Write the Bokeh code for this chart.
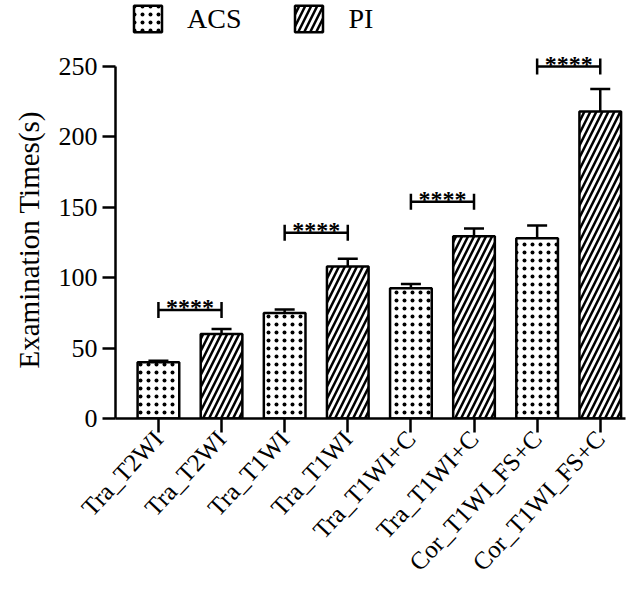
import numpy as np
from bokeh.plotting import figure
from bokeh.models import ColumnDataSource, Whisker, TeeHead, FixedTicker, Range1d, Title
from bokeh.embed import file_html
from bokeh.resources import INLINE
from bokeh.core.properties import value

# ---------------- data ----------------
sequences = ["Tra_T2WI", "Tra_T1WI", "Tra_T1WI+C", "Cor_T1WI_FS+C"]
series = ["ACS", "PI"]
acs_mean = [40, 75, 92.5, 128]
acs_upper = [41, 77.5, 95.5, 137]
pi_mean = [60, 108, 129.5, 218]
pi_upper = [63.5, 113.5, 135, 234]
sig_level = [77, 132, 154, 250]
sig_label = ["****", "****", "****", "****"]
y_ticks = [0, 50, 100, 150, 200, 250]
y_title = "Examination Times(s)"

FONT = "Liberation Serif"
LW = 2.5

acs_x = [2 * i for i in range(len(sequences))]
pi_x = [2 * i + 1 for i in range(len(sequences))]

acs_src = ColumnDataSource(dict(x=acs_x, top=acs_mean, upper=acs_upper))
pi_src = ColumnDataSource(dict(x=pi_x, top=pi_mean, upper=pi_upper))
sig_src = ColumnDataSource(dict(
    x0=acs_x, x1=pi_x, y=sig_level, label=sig_label,
    xm=[(a + b) / 2 for a, b in zip(acs_x, pi_x)],
))

p = figure(width=644, height=590,
           x_range=Range1d(-0.68, 7.40), y_range=Range1d(0, 296.9),
           output_backend="svg", toolbar_location=None,
           min_border_left=114, min_border_right=19,
           min_border_top=0, min_border_bottom=172)
p.outline_line_color = None
p.xgrid.grid_line_color = None
p.ygrid.grid_line_color = None
p.background_fill_color = "white"
p.border_fill_color = "white"

bar_kw = dict(width=0.66, fill_color="white", line_color="black",
              line_width=LW, hatch_color="black")
p.vbar(x="x", top="top", source=acs_src, hatch_pattern="dot",
       hatch_scale=8, hatch_weight=2, legend_label=series[0], **bar_kw)
p.vbar(x="x", top="top", source=pi_src, hatch_pattern="right_diagonal_line",
       hatch_scale=12, hatch_weight=2.5, legend_label=series[1], **bar_kw)

for src in (acs_src, pi_src):
    w = Whisker(source=src, base="x", lower="top", upper="upper",
                dimension="height", line_color="black", line_width=LW,
                upper_head=TeeHead(size=20, line_color="black", line_width=LW),
                lower_head=None)
    p.add_layout(w)

# significance brackets
p.segment(x0="x0", x1="x1", y0="y", y1="y", source=sig_src,
          line_color="black", line_width=LW)
for col in ("x0", "x1"):
    p.scatter(x=col, y="y", source=sig_src, marker="dash", size=16,
              angle=np.pi / 2, line_color="black", line_width=LW)
p.text(x="xm", y="y", text="label", source=sig_src, text_align="center",
       text_baseline="alphabetic", y_offset=-3,
       text_font=value(FONT), text_font_size="24px",
       text_font_style="bold", text_color="black")

# axes
ya = p.yaxis[0]
ya.ticker = FixedTicker(ticks=y_ticks)
ya.bounds = (y_ticks[0], y_ticks[-1])

# y title as a left-side title, shifted so it is centred on the 0..250 axis line
p.add_layout(Title(text=y_title, align="left", offset=50, standoff=21,
                   text_font=FONT, text_font_size="29px",
                   text_font_style="normal", text_color="black"), "left")

xa = p.xaxis[0]
xa.ticker = FixedTicker(ticks=acs_x + pi_x)
overrides = {}
for i, s in enumerate(sequences):
    overrides[acs_x[i]] = s
    overrides[pi_x[i]] = s
xa.major_label_overrides = overrides
xa.major_label_orientation = np.deg2rad(47)

for ax, tick_len, fs, so in ((ya, 13, "26px", 5), (xa, 14, "25px", 2)):
    ax.axis_line_width = LW
    ax.axis_line_color = "black"
    ax.major_tick_line_width = LW
    ax.major_tick_line_color = "black"
    ax.major_tick_out = tick_len
    ax.major_tick_in = 0
    ax.minor_tick_out = 0
    ax.minor_tick_in = 0
    ax.major_label_text_font = FONT
    ax.major_label_text_font_size = fs
    ax.major_label_text_color = "black"
    ax.major_label_standoff = so

leg = p.legend[0]
leg.location = (15, 383)
leg.orientation = "horizontal"
leg.glyph_width = 35
leg.glyph_height = 33
leg.label_height = 33
leg.label_standoff = 22
leg.spacing = 50
leg.padding = 0
leg.margin = 0
leg.border_line_color = None
leg.background_fill_alpha = 0
leg.label_text_font = FONT
leg.label_text_font_size = "28px"
leg.label_text_color = "black"

open("out.html", "w").write(file_html(p, INLINE))
